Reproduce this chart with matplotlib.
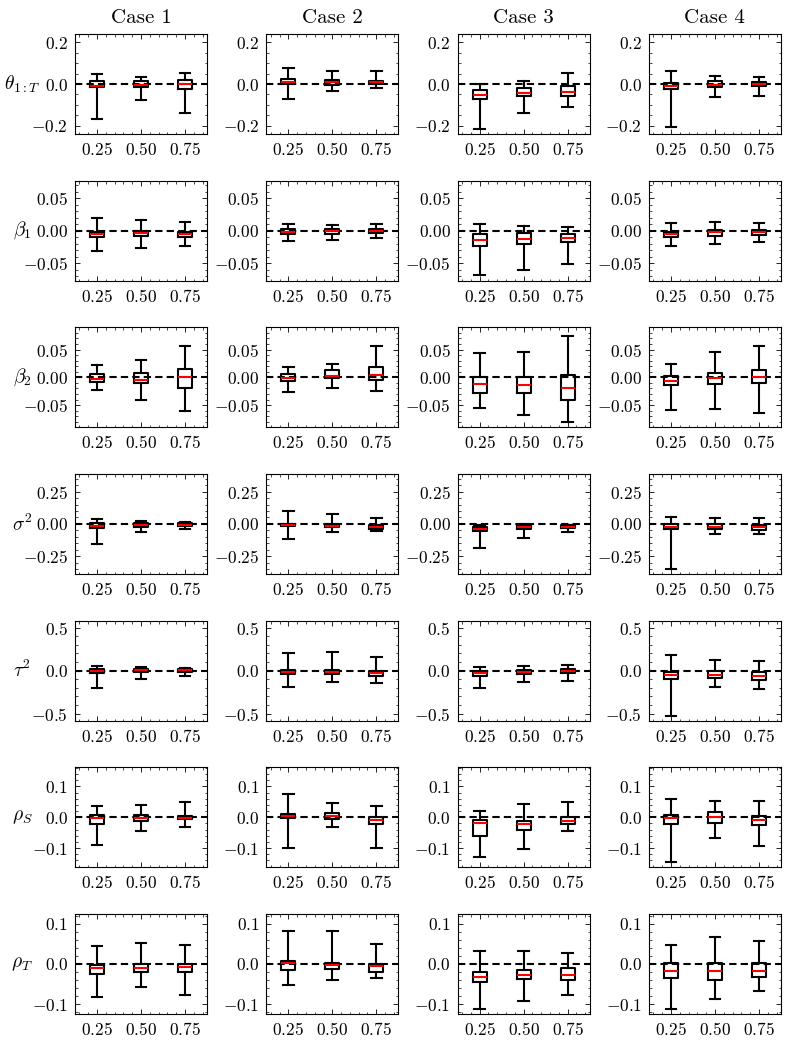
import matplotlib
matplotlib.use("Agg")
import matplotlib.pyplot as plt
from matplotlib.ticker import MultipleLocator, AutoMinorLocator

plt.rcParams.update({
    "font.family": "serif",
    "font.serif": ["cmr10"],
    "mathtext.fontset": "cm",
    "axes.formatter.use_mathtext": True,
    "axes.unicode_minus": True,
    "xtick.direction": "in",
    "ytick.direction": "in",
    "xtick.top": True,
    "ytick.right": True,
    "xtick.minor.visible": True,
    "ytick.minor.visible": True,
    "xtick.major.size": 3.5,
    "ytick.major.size": 3.5,
    "xtick.minor.size": 1.8,
    "ytick.minor.size": 1.8,
    "xtick.major.width": 0.6,
    "ytick.major.width": 0.6,
    "xtick.minor.width": 0.5,
    "ytick.minor.width": 0.5,
    "axes.linewidth": 0.8,
})

cases = ["Case 1", "Case 2", "Case 3", "Case 4"]
quantiles = [0.25, 0.50, 0.75]
params = [r"$\theta_{1:T}$", r"$\beta_1$", r"$\beta_2$", r"$\sigma^2$",
          r"$\tau^2$", r"$\rho_S$", r"$\rho_T$"]
ylims = [0.24, 0.077, 0.09, 0.385, 0.58, 0.162, 0.124]
major_steps = [0.2, 0.05, 0.05, 0.25, 0.5, 0.1, 0.1]

# [parameter][case][quantile]
whislo = [
    [[-0.167, -0.075, -0.137], [-0.073, -0.032, -0.021], [-0.216, -0.140, -0.108], [-0.208, -0.063, -0.056]],
    [[-0.032, -0.027, -0.023], [-0.016, -0.014, -0.011], [-0.068, -0.060, -0.051], [-0.024, -0.021, -0.018]],
    [[-0.023, -0.040, -0.060], [-0.027, -0.020, -0.025], [-0.055, -0.067, -0.081], [-0.058, -0.057, -0.064]],
    [[-0.154, -0.064, -0.041], [-0.113, -0.059, -0.056], [-0.185, -0.105, -0.062], [-0.349, -0.079, -0.079]],
    [[-0.200, -0.100, -0.062], [-0.187, -0.128, -0.140], [-0.198, -0.128, -0.117], [-0.529, -0.187, -0.218]],
    [[-0.090, -0.045, -0.032], [-0.100, -0.031, -0.100], [-0.130, -0.104, -0.044], [-0.146, -0.067, -0.092]],
    [[-0.083, -0.058, -0.076], [-0.0525, -0.040, -0.036], [-0.1125, -0.0925, -0.076], [-0.111, -0.086, -0.067]],
]
q1 = [
    [[-0.016, -0.014, -0.025], [0.0, -0.003, -0.002], [-0.073, -0.056, -0.057], [-0.025, -0.016, -0.011]],
    [[-0.009, -0.008, -0.010], [-0.0046, -0.0046, -0.0035], [-0.023, -0.021, -0.018], [-0.0096, -0.0076, -0.0066]],
    [[-0.0083, -0.0107, -0.019], [-0.0065, -0.0012, -0.004], [-0.028, -0.029, -0.040], [-0.013, -0.012, -0.0095]],
    [[-0.028, -0.020, -0.015], [-0.018, -0.026, -0.036], [-0.056, -0.036, -0.028], [-0.038, -0.041, -0.049]],
    [[-0.023, -0.012, -0.016], [-0.043, -0.039, -0.062], [-0.062, -0.039, -0.031], [-0.093, -0.086, -0.109]],
    [[-0.0216, -0.011, -0.005], [-0.003, -0.005, -0.0205], [-0.0616, -0.042, -0.0227], [-0.0227, -0.017, -0.026]],
    [[-0.025, -0.019, -0.021], [-0.015, -0.0133, -0.019], [-0.046, -0.038, -0.040], [-0.036, -0.040, -0.0317]],
]
med = [
    [[-0.008, -0.005, 0.0], [0.010, 0.010, 0.008], [-0.051, -0.045, -0.037], [-0.010, -0.003, 0.0]],
    [[-0.0046, -0.004, -0.0046], [-0.0015, -0.0005, -0.0005], [-0.0147, -0.013, -0.0107], [-0.0046, -0.0025, -0.0015]],
    [[-0.003, -0.0048, 0.0012], [-0.0006, 0.003, 0.0036], [-0.0113, -0.0143, -0.0196], [-0.0065, -0.0012, 0.0]],
    [[-0.015, -0.008, -0.005], [-0.010, -0.015, -0.026], [-0.038, -0.026, -0.020], [-0.020, -0.020, -0.026]],
    [[-0.004, 0.004, 0.004], [-0.016, -0.016, -0.031], [-0.027, -0.016, -0.004], [-0.047, -0.047, -0.058]],
    [[-0.003, -0.002, -0.001], [0.004, 0.004, -0.0076], [-0.018, -0.0227, -0.011], [-0.003, 0.001, -0.0076]],
    [[-0.011, -0.009, -0.0067], [0.0017, -0.0017, -0.005], [-0.032, -0.0275, -0.0275], [-0.0167, -0.0175, -0.0175]],
]
q3 = [
    [[0.013, 0.013, 0.019], [0.025, 0.017, 0.014], [-0.029, -0.021, -0.010], [0.005, 0.013, 0.011]],
    [[-0.0015, -0.0005, -0.0015], [0.002, 0.003, 0.002], [-0.0056, -0.004, -0.0046], [-0.0015, 0.0005, 0.001]],
    [[0.0054, 0.0083, 0.0155], [0.006, 0.0125, 0.019], [0.0, 0.0, 0.0048], [0.003, 0.0083, 0.0137]],
    [[0.008, 0.005, 0.005], [0.003, 0.003, -0.005], [-0.020, -0.010, -0.008], [0.003, 0.003, -0.005]],
    [[0.016, 0.019, 0.016], [0.008, 0.008, -0.004], [-0.004, 0.008, 0.016], [-0.012, -0.004, -0.019]],
    [[0.0076, 0.0076, 0.0043], [0.012, 0.014, 0.002], [-0.0097, -0.011, 0.0], [0.0076, 0.018, 0.0043]],
    [[-0.0025, 0.0, 0.0], [0.0075, 0.0033, 0.0], [-0.019, -0.015, -0.009], [0.0017, 0.0033, 0.0017]],
]
whishi = [
    [[0.048, 0.032, 0.051], [0.079, 0.063, 0.063], [0.0, 0.016, 0.051], [0.063, 0.037, 0.033]],
    [[0.020, 0.016, 0.014], [0.010, 0.0086, 0.0096], [0.010, 0.0076, 0.006], [0.012, 0.0127, 0.012]],
    [[0.022, 0.032, 0.057], [0.019, 0.0244, 0.0565], [0.044, 0.045, 0.075], [0.024, 0.045, 0.056]],
    [[0.036, 0.023, 0.015], [0.097, 0.079, 0.049], [-0.005, -0.003, -0.005], [0.054, 0.046, 0.044]],
    [[0.058, 0.043, 0.035], [0.200, 0.220, 0.163], [0.047, 0.054, 0.066], [0.180, 0.120, 0.113]],
    [[0.036, 0.039, 0.049], [0.077, 0.046, 0.036], [0.0216, 0.043, 0.050], [0.058, 0.054, 0.054]],
    [[0.045, 0.052, 0.0475], [0.081, 0.081, 0.050], [0.031, 0.031, 0.028], [0.046, 0.066, 0.0575]],
]

fig, axes = plt.subplots(len(params), len(cases), figsize=(7.88, 10.41), dpi=100)
fig.subplots_adjust(left=0.0952, right=0.991, top=0.9673, bottom=0.026,
                    wspace=0.45, hspace=0.467)

lw = 1.5
for i, pname in enumerate(params):
    for j, cname in enumerate(cases):
        ax = axes[i, j]
        stats = []
        for k, q in enumerate(quantiles):
            stats.append(dict(med=med[i][j][k], q1=q1[i][j][k], q3=q3[i][j][k],
                              whislo=whislo[i][j][k], whishi=whishi[i][j][k],
                              fliers=[]))
        ax.axhline(0, color="black", linestyle=(0, (3.5, 2.0)), linewidth=lw, zorder=1)
        ax.bxp(stats, positions=quantiles, widths=0.08, capwidths=0.06,
               showfliers=False, manage_ticks=False,
               boxprops=dict(color="black", linewidth=lw),
               whiskerprops=dict(color="black", linewidth=lw),
               capprops=dict(color="black", linewidth=lw),
               medianprops=dict(color="red", linewidth=lw),
               zorder=2)
        ax.set_xlim(0.125, 0.875)
        ax.set_xticks(quantiles)
        ax.xaxis.set_minor_locator(AutoMinorLocator())
        ax.set_ylim(-ylims[i], ylims[i])
        ax.yaxis.set_major_locator(MultipleLocator(major_steps[i]))
        ax.yaxis.set_minor_locator(AutoMinorLocator())
        ax.tick_params(axis="both", which="major", labelsize=12.5, pad=5)
        if i == 0:
            ax.set_title(cname, fontsize=15, pad=8)
        if j == 0:
            ax.set_ylabel(pname, rotation=0, fontsize=14, ha="center", va="center")
            ax.yaxis.set_label_coords(-0.40, 0.5)

fig.savefig("out.png", dpi=100)
